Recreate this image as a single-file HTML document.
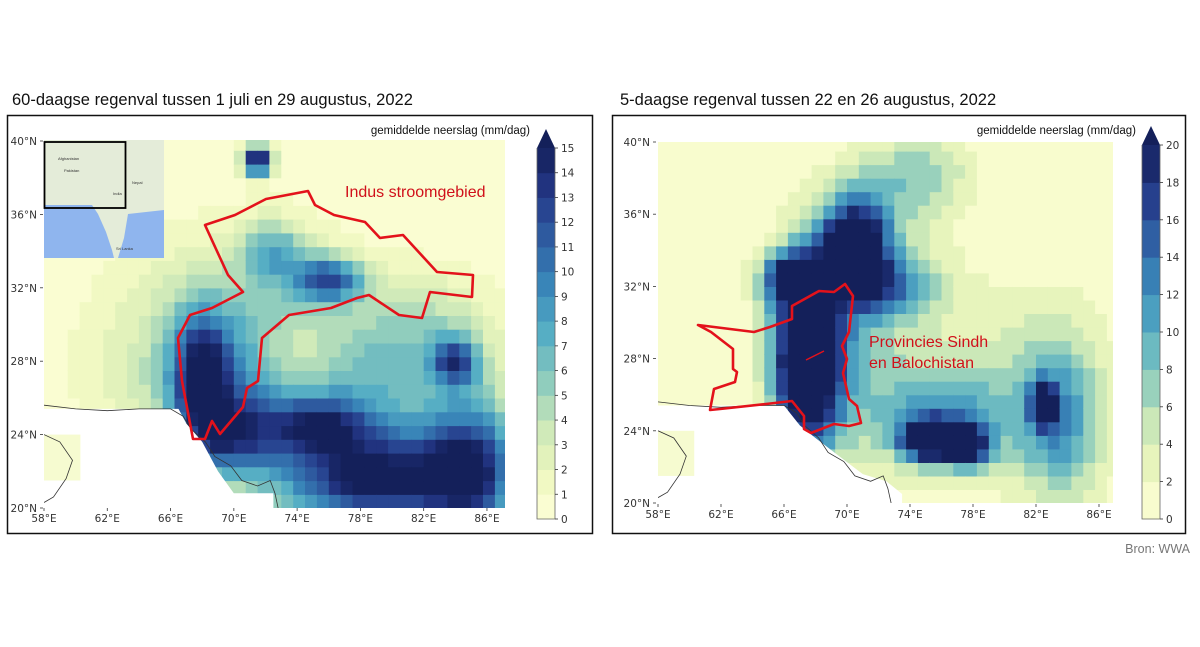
<!DOCTYPE html>
<html><head><meta charset="utf-8">
<style>
body{margin:0;background:#fff;width:1200px;height:647px;overflow:hidden;font-family:"Liberation Sans",sans-serif}
svg{display:block}
.t{font-family:"DejaVu Sans",sans-serif;font-size:10.5px;fill:#333}
</style></head><body>
<svg id="s" width="1200" height="647" viewBox="0 0 1200 647" xmlns="http://www.w3.org/2000/svg">
<text x="12" y="105" font-size="16.5" fill="#111">60-daagse regenval tussen 1 juli en 29 augustus, 2022</text>
<text x="620" y="105" font-size="16.5" fill="#111">5-daagse regenval tussen 22 en 26 augustus, 2022</text>
<rect x="7.5" y="115.5" width="585" height="418" fill="none" stroke="#111" stroke-width="1.5"/>
<rect x="612.5" y="115.5" width="573" height="418" fill="none" stroke="#111" stroke-width="1.5"/>
<defs>
<clipPath id="cl"><rect x="44" y="140" width="461" height="368"/></clipPath>
<clipPath id="cr"><rect x="658" y="142" width="455" height="361"/></clipPath>
</defs>
<g id="gl" clip-path="url(#cl)"></g>
<g id="gr" clip-path="url(#cr)"></g>
<g id="over"></g>
<text x="1190" y="553" font-size="12.5" fill="#777" text-anchor="end">Bron: WWA</text>
</svg>
<script>
var NS="http://www.w3.org/2000/svg";
function el(p,t,a,txt){var e=document.createElementNS(NS,t);for(var k in a)e.setAttribute(k,a[k]);if(txt!==undefined)e.textContent=txt;p.appendChild(e);return e;}
var stops=['#ffffd9','#eef7bd','#cbe8b8','#8ccbbd','#56aec4','#3a88ba','#2f5fa3','#243888','#14205a'];
function hx(c){return [parseInt(c.substr(1,2),16),parseInt(c.substr(3,2),16),parseInt(c.substr(5,2),16)];}
function cmap(t){t=Math.max(0,Math.min(1,t))*8;var i=Math.min(7,Math.floor(t)),f=t-i;var a=hx(stops[i]),b=hx(stops[i+1]);
return 'rgb('+a.map(function(v,j){return Math.round(v+(b[j]-v)*f)}).join(',')+')';}
function field(bl,base,lon,lat){var v=base;for(var i=0;i<bl.length;i++){var b=bl[i];var dx=(lon-b[1])/b[3],dy=(lat-b[2])/b[4];v+=b[0]*Math.exp(-0.5*(dx*dx+dy*dy));}return v;}
var L={X:function(l){return 44+(l-58)*15.82},Y:function(a){return 508-(a-20)*18.35},max:15,nb:15,
bl:[[6,70,28,5,4],[5,78,26,6,3],[11,68,27,1.3,2.5],[10,76,32.5,1.6,0.9],[6,72.5,34,1.5,1.2],[14,79,21.5,4,1.8],[12,85,22,2,2.5],[8,75.5,24.5,2,1],[10,84,28,1,0.9],[16,71.5,39,0.6,0.6],[8,70,24,2,1.5],[3,82,30,3,2],[-4,74,28,2,1.5]],base:0.3,g:'gl'};
var R={X:function(l){return 658+(l-58)*15.75},Y:function(a){return 503-(a-20)*18.05},max:20,nb:10,
bl:[[28,67.5,28,1.5,3.5],[26,70.5,34,1.4,1.8],[18,66.5,32.5,1.3,1],[10,73,32,2,1.2],[24,75.2,23.5,1.1,0.7],[24,77.5,23.2,0.9,0.7],[10,76,24.5,3,1.8],[22,82.5,25.5,0.5,0.8],[10,83.5,24.5,1.8,3],[6,74.5,38.5,2.5,1.5],[4,80,27,5,4],[6,70,29,3,4],[4,72,36,3,2]],base:0.2,g:'gr'};
[L,R].forEach(function(P){var g=document.getElementById(P.g);var st=0.75;
for(var lon=58;lon<87.2;lon+=st)for(var lat=20;lat<40;lat+=st){var v=field(P.bl,P.base,lon+st/2,lat+st/2);
var bin=Math.floor(v/P.max*P.nb);var c=bin>=P.nb?'#14205a':cmap((bin+0.5)/P.nb);
var x=P.X(lon),y=P.Y(lat+st);el(g,'rect',{x:x.toFixed(1),y:y.toFixed(1),width:(P.X(lon+st)-x+0.6).toFixed(1),height:(P.Y(lat)-y+0.6).toFixed(1),fill:c});}
function pts(a){return a.map(function(p){return P.X(p[0]).toFixed(1)+','+P.Y(p[1]).toFixed(1)}).join(' ');}
var sea=P===L?[[57,25.4],[66.5,25.4],[67,24.6],[68,23.6],[69,22],[70,20.8],[72.5,20.8],[72.5,19],[57,19]]
:[[57,25.4],[66,25.4],[67,24.3],[68,23.6],[69.5,22.6],[71,21.6],[72.5,21.2],[73.5,20.5],[73.5,19],[57,19]];
el(g,'polygon',{points:pts(sea),fill:'#fff'});
el(g,'rect',{x:P.X(58),y:P.Y(24),width:P.X(60.3)-P.X(58),height:P.Y(21.5)-P.Y(24),fill:'#f6fbd0'});
el(g,'polyline',{points:pts([[58,25.6],[60,25.4],[62,25.3],[64,25.4],[66,25.4],[66.8,25],[67.3,24.3],[68.2,23.6],[68.8,22.8],[69.8,22.3],[70.5,21.5],[71.5,21.2],[72.3,21.5],[72.6,20.8],[72.8,20]]),fill:'none',stroke:'#333','stroke-width':0.8});
el(g,'polyline',{points:pts([[58,24],[59,23.6],[59.8,22.6],[59.4,21.6],[58.6,20.6],[58,20.3]]),fill:'none',stroke:'#333','stroke-width':0.8});
});
var o=document.getElementById('over');
el(o,'rect',{x:44,y:140,width:120,height:118,fill:'#e4ecd9'});
el(o,'path',{d:'M44 205 L92 205 L98 214 L106 232 L112 250 L114 258 L44 258 Z',fill:'#8fb5ee'});
el(o,'path',{d:'M128 214 L164 210 L164 258 L118 258 L124 238 Z',fill:'#8fb5ee'});
el(o,'rect',{x:44.5,y:142,width:81,height:66,fill:'none',stroke:'#000','stroke-width':1.8});
[['Afghanistan',58,160],['Pakistan',64,172],['India',113,195],['Nepal',132,184],['Sri Lanka',116,250]].forEach(function(t){el(o,'text',{x:t[1],y:t[2],'font-size':4,fill:'#333'},t[0])});
el(o,'polygon',{points:'205,225 235,215 266,199 308,191 315,205 334,215 365,222 380,238 403,235 437,272 473,275 472,297 430,292 422,318 399,315 369,295 357,298 331,308 289,315 262,338 258,381 247,388 243,407 220,434 212,421 205,439 193,439 182,381 178,338 190,315 212,308 243,292 228,275 216,249',fill:'none',stroke:'#e3121b','stroke-width':2.6,'stroke-linejoin':'round'});
el(o,'polygon',{points:'698,325 754,332 770,327 792,319 792,306 819,291 834,292 845,284 853,296 849,332 842,346 847,359 843,373 849,399 857,406 861,423 849,426 834,424 811,433 804,429 804,416 792,401 766,404 720,409 710,410 714,389 735,382 737,372 733,369 733,349 711,332',fill:'none',stroke:'#e3121b','stroke-width':2.6,'stroke-linejoin':'round'});
el(o,'line',{x1:806,y1:360,x2:824,y2:351,stroke:'#e3121b','stroke-width':1.5});
el(o,'text',{x:345,y:197,'font-size':16,fill:'#d0101a'},'Indus stroomgebied');
el(o,'text',{x:869,y:347,'font-size':16,fill:'#d0101a'},'Provincies Sindh');
el(o,'text',{x:869,y:368,'font-size':16,fill:'#d0101a'},'en Balochistan');
function axes(P,x0,yb){[40,36,32,28,24,20].forEach(function(a){var y=P.Y(a);el(o,'text',{x:x0,y:y+4,'text-anchor':'end','class':'t'},a+'°N');el(o,'line',{x1:x0+3,x2:x0+6,y1:y,y2:y,stroke:'#333','stroke-width':0.8});});
[58,62,66,70,74,78,82,86].forEach(function(l){var x=P.X(l);el(o,'line',{x1:x,x2:x,y1:yb-9,y2:yb-6,stroke:'#333','stroke-width':0.8});el(o,'text',{x:x,y:yb+5,'text-anchor':'middle','class':'t'},l+'°E');});}
axes(L,37,517);axes(R,650,513);
function cbar(x,top,bot,n,lab){var h=(bot-top)/n;for(var i=0;i<n;i++){el(o,'rect',{x:x,y:(bot-(i+1)*h).toFixed(1),width:18,height:(h+0.5).toFixed(1),fill:cmap((i+0.5)/n)});}
el(o,'polygon',{points:x+','+top+' '+(x+18)+','+top+' '+(x+9)+','+(top-19),fill:'#14205a'});
el(o,'path',{d:'M'+x+' '+top+' L'+x+' '+bot+' L'+(x+18)+' '+bot+' L'+(x+18)+' '+top,fill:'none',stroke:'#666','stroke-width':0.8});
for(var i=0;i<=n;i++){var y=bot-i*h;el(o,'line',{x1:x+18,x2:x+21,y1:y,y2:y,stroke:'#333','stroke-width':0.8});el(o,'text',{x:x+24,y:y+4,'class':'t'},String(i*lab));}
}
cbar(537,148,519,15,1);
cbar(1142,145,519,10,2);
el(o,'text',{x:530,y:134,'font-size':11.5,'text-anchor':'end',fill:'#111'},'gemiddelde neerslag (mm/dag)');
el(o,'text',{x:1136,y:134,'font-size':11.5,'text-anchor':'end',fill:'#111'},'gemiddelde neerslag (mm/dag)');
</script>
</body></html>
